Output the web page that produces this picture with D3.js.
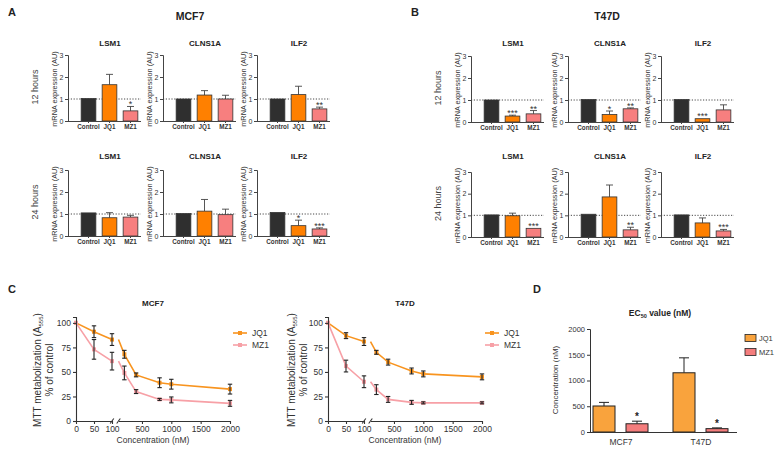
<!DOCTYPE html>
<html><head><meta charset="utf-8">
<script src="https://cdn.jsdelivr.net/npm/d3@7"></script>
<style>
body{margin:0;background:#fff;}
svg{font-family:"Liberation Sans",Arial,sans-serif;}
</style></head>
<body><svg id="c" width="775" height="450"></svg>
<script>
// ---------- DATA ----------
const categories = ["Control", "JQ1", "MZ1"];
const genes = ["LSM1", "CLNS1A", "ILF2"];
const barTicks = [0, 1, 2, 3];

// Panel A (MCF7)
const mcf7_12h_mean = [[1.02, 1.65, 0.46], [1.0, 1.18, 1.0], [1.0, 1.2, 0.55]];
const mcf7_12h_err  = [[0.02, 0.47, 0.2], [0.02, 0.2, 0.17], [0.02, 0.38, 0.08]];
const mcf7_12h_sig  = [["", "", "*"], ["", "", ""], ["", "", "**"]];
const mcf7_24h_mean = [[1.05, 0.83, 0.86], [1.02, 1.13, 0.97], [1.07, 0.47, 0.32]];
const mcf7_24h_err  = [[0.02, 0.23, 0.08], [0.02, 0.53, 0.25], [0.02, 0.25, 0.05]];
const mcf7_24h_sig  = [["", "", ""], ["", "", ""], ["", "*", "***"]];
// Panel B (T47D)
const t47d_12h_mean = [[1.0, 0.27, 0.37], [1.02, 0.34, 0.6], [1.02, 0.15, 0.55]];
const t47d_12h_err  = [[0.01, 0.04, 0.15], [0.01, 0.16, 0.04], [0.01, 0.03, 0.23]];
const t47d_12h_sig  = [["", "***", "**"], ["", "*", "**"], ["", "***", ""]];
const t47d_24h_mean = [[1.02, 0.98, 0.4], [1.05, 1.85, 0.33], [1.02, 0.65, 0.28]];
const t47d_24h_err  = [[0.01, 0.12, 0.03], [0.03, 0.55, 0.12], [0.01, 0.23, 0.07]];
const t47d_24h_sig  = [["", "", "***"], ["", "", "**"], ["", "", "***"]];

// Panel C
const concentrations = [0, 50, 100, 200, 400, 800, 1000, 2000];
const mcf7_jq1 = [100, 91, 83, 68, 47, 39, 37.5, 32.5];
const mcf7_jq1_err = [0, 6, 6, 4, 2, 5, 5, 5];
const mcf7_mz1 = [100, 73, 61, 49, 30, 22, 21.5, 18];
const mcf7_mz1_err = [0, 10, 9, 7, 2, 1, 3, 3];
const t47d_jq1 = [100, 87, 81, 70, 60, 51, 48, 45];
const t47d_jq1_err = [0, 3, 4, 2, 3, 3, 3, 3];
const t47d_mz1 = [100, 56, 40, 32, 22, 19, 18.5, 18.5];
const t47d_mz1_err = [0, 6, 6, 5, 3, 2, 1, 1];
const cYTicks = [0, 25, 50, 75, 100];
const cXTicksLow = [0, 50, 100];
const cXTicksHigh = [500, 1000, 1500, 2000];

// Panel D
const cellLines = ["MCF7", "T47D"];
const drugs = ["JQ1", "MZ1"];
const ec50_jq1 = [505, 1150];
const ec50_jq1_err = [70, 290];
const ec50_mz1 = [160, 65];
const ec50_mz1_err = [50, 15];
const ec50_sig = [["", "*"], ["", "*"]];
const dYTicks = [0, 500, 1000, 1500, 2000];

// ---------- DRAW ----------
const svg = d3.select("#c");
const barColor = {Control: "#2f2f2f", JQ1: "#ff8000", MZ1: "#f77f7f"};
const txt = "#222";
const fmt = d3.format("d");

function text(x, y, s, o = {}) {
  const t = svg.append("text").attr("x", x).attr("y", y).text(s)
    .attr("font-size", o.size || 8).attr("fill", o.fill || txt)
    .attr("text-anchor", o.anchor || "middle")
    .attr("font-weight", o.bold ? "bold" : "normal");
  if (o.rotate) t.attr("transform", `rotate(-90,${x},${y})`);
  return t;
}

function smallBar(ax, y0, y3, titleY, gene, means, errs, sigs) {
  const g = svg.append("g");
  const y = d3.scaleLinear().domain([0, 3]).range([y0, y3]);
  const x = d3.scaleBand().domain(categories).range([ax + 10, ax + 73]).paddingInner(0.3).paddingOuter(0.15);
  text(ax + 42, titleY, gene, {size: 8, bold: true});
  g.append("line").attr("x1", ax).attr("x2", ax + 73).attr("y1", y(1)).attr("y2", y(1))
    .attr("stroke", "#333").attr("stroke-dasharray", "1.2,1.6").attr("stroke-width", 0.9);
  categories.forEach((c, i) => {
    const top = y(means[i]);
    const ex = x(c) + x.bandwidth() / 2;
    if (errs[i] > 0.03) {
      g.append("line").attr("x1", ex).attr("x2", ex).attr("y1", top).attr("y2", y(means[i] + errs[i])).attr("stroke", "#444").attr("stroke-width", 0.9);
      g.append("line").attr("x1", ex - 3.5).attr("x2", ex + 3.5).attr("y1", y(means[i] + errs[i])).attr("y2", y(means[i] + errs[i])).attr("stroke", "#444").attr("stroke-width", 0.9);
    }
    g.append("rect").attr("x", x(c)).attr("y", top).attr("width", x.bandwidth()).attr("height", y0 - top)
      .attr("fill", barColor[c]).attr("stroke", "#333").attr("stroke-width", 0.8);
    if (sigs[i]) text(ex, y(means[i] + errs[i]) + 1, sigs[i], {size: 9, fill: "#333"});
  });
  const ya = g.append("g").attr("transform", `translate(${ax},0)`)
    .call(d3.axisLeft(y).tickValues(barTicks).tickFormat(fmt).tickSize(3).tickPadding(1.5));
  ya.selectAll("text").attr("font-size", 7).attr("fill", "#333").attr("font-family", "Liberation Sans, Arial");
  const xa = g.append("g").attr("transform", `translate(0,${y0})`)
    .call(d3.axisBottom(x).tickSize(2).tickPadding(2).tickSizeOuter(0));
  xa.select(".domain").attr("d", `M${ax},0.5H${ax + 73}`);
  xa.selectAll("text").attr("font-size", 6.3).attr("font-weight", "bold").attr("fill", "#333").attr("font-family", "Liberation Sans, Arial");
  g.selectAll(".domain, .tick line").attr("stroke", "#444");
  text(ax - 11, (y0 + y3) / 2 + 1, "mRNA expression (AU)", {size: 7.3, rotate: true, fill: "#333"});
}

function panelBars(axes, rows, hoursX) {
  rows.forEach(r => {
    genes.forEach((gname, gi) => smallBar(axes[gi], r.y0, r.y3, r.titleY, gname, r.mean[gi], r.err[gi], r.sig[gi]));
    text(hoursX, (r.y0 + r.y3) / 2 - 1, r.label, {size: 9, rotate: true, fill: "#444"});
  });
}

// Panel A
text(8, 16, "A", {size: 11, bold: true, anchor: "start"});
text(190, 20, "MCF7", {size: 10.5, bold: true});
panelBars([68, 163, 257], [
  {y0: 121, y3: 55, titleY: 46, label: "12 hours", mean: mcf7_12h_mean, err: mcf7_12h_err, sig: mcf7_12h_sig},
  {y0: 236, y3: 170, titleY: 159, label: "24 hours", mean: mcf7_24h_mean, err: mcf7_24h_err, sig: mcf7_24h_sig}
], 38);
// Panel B
text(411, 16, "B", {size: 11, bold: true, anchor: "start"});
text(607, 20, "T47D", {size: 10.5, bold: true});
panelBars([471, 568, 661], [
  {y0: 122, y3: 56, titleY: 46, label: "12 hours", mean: t47d_12h_mean, err: t47d_12h_err, sig: t47d_12h_sig},
  {y0: 237, y3: 172, titleY: 159, label: "24 hours", mean: t47d_24h_mean, err: t47d_24h_err, sig: t47d_24h_sig}
], 441);

// Panel C
const lineColor = {JQ1: "#f8941f", MZ1: "#f7a0a6"};
function lineChart(ax, title, jq, jqE, mz, mzE, labX) {
  const g = svg.append("g");
  const y = d3.scaleLinear().domain([0, 106]).range([421, 317]);
  const x1 = d3.scaleLinear().domain([0, 100]).range([ax, ax + 36]);
  const x2 = d3.scaleLinear().domain([100, 2000]).range([ax + 42.5, ax + 154]);
  const xp = (c, i) => (i <= 2 ? x1(c) : x2(c));
  text(ax + 77, 306, title, {size: 8, bold: true});
  const series = [["JQ1", jq, jqE], ["MZ1", mz, mzE]];
  series.forEach(([name, vals, errs]) => {
    const pts = concentrations.map((c, i) => ({c, v: vals[i], e: errs[i], i}));
    const ln = d3.line().x(d => d.xx).y(d => y(d.v));
    const seg1 = pts.slice(0, 3).map(d => ({...d, xx: x1(d.c)}));
    const seg2 = pts.slice(2).map(d => ({...d, xx: x2(d.c)}));
    [seg1, seg2].forEach(s => g.append("path").attr("d", ln(s)).attr("fill", "none").attr("stroke", lineColor[name]).attr("stroke-width", 1.6));
    pts.forEach(d => {
      const px = xp(d.c, d.i);
      g.append("rect").attr("x", px - 2).attr("y", y(d.v) - 2).attr("width", 4).attr("height", 4).attr("fill", lineColor[name]);
    });
  });
  series.forEach(([name, vals, errs]) => {
    concentrations.forEach((c, i) => {
      if (errs[i] <= 0) return;
      const px = xp(c, i);
      const a = y(vals[i] + errs[i]), b = y(vals[i] - errs[i]);
      g.append("line").attr("x1", px).attr("x2", px).attr("y1", a).attr("y2", b).attr("stroke", "#222").attr("stroke-width", 1.1);
      [a, b].forEach(yy => g.append("line").attr("x1", px - 2.2).attr("x2", px + 2.2).attr("y1", yy).attr("y2", yy).attr("stroke", "#222").attr("stroke-width", 1.1));
    });
  });
  const ya = g.append("g").attr("transform", `translate(${ax},0)`)
    .call(d3.axisLeft(y).tickValues(cYTicks).tickFormat(fmt).tickSize(3).tickPadding(2));
  ya.selectAll("text").attr("font-size", 8.5).attr("fill", "#333").attr("font-family", "Liberation Sans, Arial");
  const xa1 = g.append("g").attr("transform", `translate(0,421)`)
    .call(d3.axisBottom(x1).tickValues(cXTicksLow).tickFormat(fmt).tickSize(3).tickPadding(2).tickSizeOuter(0));
  const xa2 = g.append("g").attr("transform", `translate(0,421)`)
    .call(d3.axisBottom(x2).tickValues(cXTicksHigh).tickFormat(fmt).tickSize(3).tickPadding(2).tickSizeOuter(0));
  [xa1, xa2].forEach(a => a.selectAll("text").attr("font-size", 8.5).attr("fill", "#333").attr("font-family", "Liberation Sans, Arial"));
  g.selectAll(".domain, .tick line").attr("stroke", "#333").attr("stroke-width", 1.1);
  [ax + 36, ax + 42.5].forEach(bx => g.append("line").attr("x1", bx - 1.8).attr("x2", bx + 1.8).attr("y1", 423.5).attr("y2", 418.5).attr("stroke", "#333").attr("stroke-width", 1.1));
  text(ax + 77, 443, "Concentration (nM)", {size: 8.5, fill: "#333"});
  const yl = text(labX, 370, "", {size: 10, rotate: true, fill: "#333"});
  yl.append("tspan").text("MTT metabolization (A");
  yl.append("tspan").text("555").attr("font-size", 6).attr("dy", 2);
  yl.append("tspan").text(")").attr("dy", -2);
  text(labX + 12, 370, "% of control", {size: 10, rotate: true, fill: "#333"});
  const lx = ax + 157;
  [["JQ1", 333], ["MZ1", 345]].forEach(([n, ly]) => {
    g.append("line").attr("x1", lx).attr("x2", lx + 14).attr("y1", ly).attr("y2", ly).attr("stroke", lineColor[n]).attr("stroke-width", 1.6);
    g.append("rect").attr("x", lx + 5).attr("y", ly - 2).attr("width", 4).attr("height", 4).attr("fill", lineColor[n]);
    text(lx + 19, ly + 3, n, {size: 8.5, anchor: "start", fill: "#333"});
  });
}
text(8, 293, "C", {size: 11, bold: true, anchor: "start"});
lineChart(76, "MCF7", mcf7_jq1, mcf7_jq1_err, mcf7_mz1, mcf7_mz1_err, 41);
lineChart(328, "T47D", t47d_jq1, t47d_jq1_err, t47d_mz1, t47d_mz1_err, 295);

// Panel D
text(533, 293, "D", {size: 11, bold: true, anchor: "start"});
(function () {
  const g = svg.append("g");
  const dColor = {JQ1: "#f9a33d", MZ1: "#f47d7d"};
  const y = d3.scaleLinear().domain([0, 2000]).range([432, 329]);
  const x0 = d3.scaleBand().domain(cellLines).range([581, 741]);
  const x1 = d3.scaleBand().domain(drugs).range([12, 67]).paddingInner(1 / 3);
  const vals = {JQ1: [ec50_jq1, ec50_jq1_err], MZ1: [ec50_mz1, ec50_mz1_err]};
  cellLines.forEach((cl, ci) => {
    drugs.forEach((dr, di) => {
      const v = vals[dr][0][ci], e = vals[dr][1][ci];
      const bx = x0(cl) + x1(dr), cx = bx + x1.bandwidth() / 2;
      g.append("line").attr("x1", cx).attr("x2", cx).attr("y1", y(v)).attr("y2", y(v + e)).attr("stroke", "#222").attr("stroke-width", 1);
      g.append("line").attr("x1", cx - 5).attr("x2", cx + 5).attr("y1", y(v + e)).attr("y2", y(v + e)).attr("stroke", "#222").attr("stroke-width", 1);
      g.append("rect").attr("x", bx).attr("y", y(v)).attr("width", x1.bandwidth()).attr("height", 432 - y(v))
        .attr("fill", dColor[dr]).attr("stroke", "#222").attr("stroke-width", 1);
      const s = ec50_sig[ci][di];
      if (s) text(cx, y(v + e) - 1, s, {size: 10, bold: true});
    });
  });
  const ya = g.append("g").attr("transform", "translate(590,0)")
    .call(d3.axisLeft(y).tickValues(dYTicks).tickFormat(fmt).tickSize(3).tickPadding(2));
  ya.selectAll("text").attr("font-size", 7.5).attr("fill", "#333").attr("font-family", "Liberation Sans, Arial");
  const xa = g.append("g").attr("transform", "translate(0,432)")
    .call(d3.axisBottom(x0).tickSize(0).tickPadding(7));
  xa.select(".domain").attr("d", "M590,0.5H737");
  xa.selectAll("text").attr("font-size", 8.5).attr("fill", "#333").attr("font-family", "Liberation Sans, Arial");
  g.selectAll(".domain, .tick line").attr("stroke", "#333").attr("stroke-width", 1);
  const t = text(660, 316, "EC", {size: 8.5, bold: true});
  t.append("tspan").text("50").attr("font-size", 5.5).attr("dy", 1.5);
  t.append("tspan").text(" value (nM)").attr("dy", -1.5);
  text(558, 380, "Concentration (nM)", {size: 8, rotate: true, fill: "#333"});
  [["JQ1", 338], ["MZ1", 352]].forEach(([n, ly]) => {
    g.append("rect").attr("x", 745).attr("y", ly - 3.5).attr("width", 11).attr("height", 7).attr("fill", dColor[n]).attr("stroke", "#222").attr("stroke-width", 0.8);
    text(759, ly + 3, n, {size: 7.5, anchor: "start", fill: "#333"});
  });
})();
</script></body></html>
